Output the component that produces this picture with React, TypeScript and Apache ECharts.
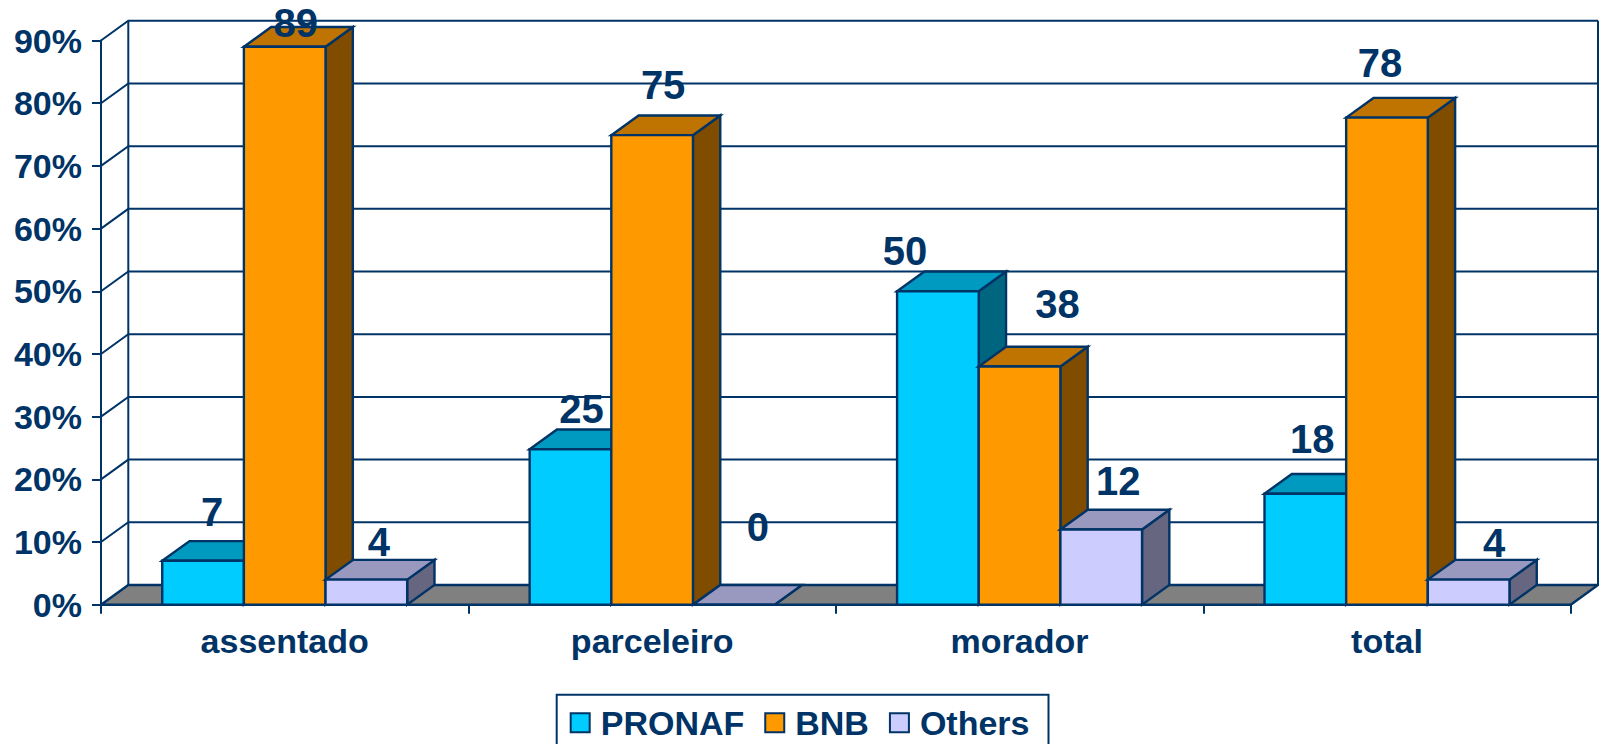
import React, { useEffect, useRef } from "react";
import * as echarts from "echarts";

const categories = ["assentado", "parceleiro", "morador", "total"];
const seriesNames = ["PRONAF", "BNB", "Others"];
const pronaf = [7, 24.8, 50, 17.7];
const bnb = [89, 74.9, 38, 77.7];
const others = [4, 0, 12, 4];
const yTicks = [0, 10, 20, 30, 40, 50, 60, 70, 80, 90];

const INK = "#003366";
const FONT = '"Liberation Sans", Arial, sans-serif';
const DX = 27.3;
const DY = 19.7;
const BAR_FRACTION = 1 / 4.5;

const palettes = [
  { front: "#00CCFF", top: "#0099BF", side: "#006680" },
  { front: "#FF9900", top: "#BF7300", side: "#804D00" },
  { front: "#CCCCFF", top: "#9999BF", side: "#666680" },
];

// Hand-placed label offsets of the original (from bar front-top centre), px: [dx, up]
const labelOffsets = [
  [[9, 49], [11, 40], [-33, 40], [7, 55]],
  [[11, 24], [11, 50], [38, 62], [-7, 55]],
  [[12.5, 38], [24, 78], [17, 48], [25.5, 37]],
];

function poly(points: number[][], fill: string, lineWidth = 2.4) {
  return {
    type: "polygon",
    shape: { points },
    style: { fill, stroke: INK, lineWidth, lineJoin: "miter" },
  };
}

function barSeries(name: string, values: number[], idx: number) {
  const pal = palettes[idx];
  return {
    type: "custom",
    name,
    z: 3 + idx,
    silent: true,
    itemStyle: { color: pal.front, borderColor: INK, borderWidth: 2 },
    encode: { x: 0, y: 1 },
    data: values.map((v, i) => [i, v]),
    renderItem: (_p: any, api: any) => {
      const cat = api.value(0);
      const val = api.value(1);
      const [cx, yTop] = api.coord([cat, val]);
      const [, yBase] = api.coord([cat, 0]);
      const bw = api.size([1, 0])[0] * BAR_FRACTION;
      const x0 = cx + (idx - 1.5) * bw;
      const x1 = x0 + bw;
      return {
        type: "group",
        children: [
          poly(
            [[x1, yTop], [x1 + DX, yTop - DY], [x1 + DX, yBase - DY], [x1, yBase]],
            pal.side
          ),
          poly(
            [[x0, yTop], [x0 + DX, yTop - DY], [x1 + DX, yTop - DY], [x1, yTop]],
            pal.top
          ),
          poly([[x0, yTop], [x1, yTop], [x1, yBase], [x0, yBase]], pal.front),
        ],
      };
    },
  };
}

function labelSeries(values: number[], idx: number) {
  return {
    type: "custom",
    name: "labels" + idx,
    z: 10,
    silent: true,
    encode: { x: 0, y: 1 },
    data: values.map((v, i) => [i, v]),
    renderItem: (_p: any, api: any) => {
      const cat = api.value(0);
      const val = api.value(1);
      const [cx, yTop] = api.coord([cat, val]);
      const bw = api.size([1, 0])[0] * BAR_FRACTION;
      const [ox, up] = labelOffsets[idx][cat];
      return {
        type: "text",
        style: {
          x: cx + (idx - 1) * bw + ox,
          y: yTop - up,
          text: String(Math.round(val)),
          fill: INK,
          font: `bold 40px ${FONT}`,
          align: "center",
          verticalAlign: "middle",
        },
      };
    },
  };
}

export default function App() {
  const ref = useRef<HTMLDivElement>(null);
  useEffect(() => {
    const chart = echarts.init(ref.current!, null, { renderer: "svg" });
    chart.setOption({
      animation: false,
      backgroundColor: "#ffffff",
      grid: { left: 101, right: 28.3, top: 40.5, bottom: 139.3, containLabel: false },
      legend: {
        left: 556.7,
        top: 694.7,
        orient: "horizontal",
        data: seriesNames.map((name, i) => ({
          name,
          icon: "rect",
          itemStyle: { color: palettes[i].front, borderColor: INK, borderWidth: 2 },
        })),
        itemWidth: 19,
        itemHeight: 19,
        itemGap: 20,
        padding: [11, 19, 30, 13],
        borderColor: INK,
        borderWidth: 2,
        backgroundColor: "#ffffff",
        selectedMode: false,
        textStyle: {
          color: INK,
          fontFamily: FONT,
          fontWeight: "bold",
          fontSize: 34,
          padding: [0, 0, 0, 6],
        },
      },
      xAxis: {
        type: "category",
        data: categories,
        axisLine: { show: true, lineStyle: { color: INK, width: 2 } },
        axisTick: { show: true, length: 9, lineStyle: { color: INK, width: 2 } },
        axisLabel: { color: INK, fontFamily: FONT, fontWeight: "bold", fontSize: 34, margin: 19 },
        splitLine: { show: false },
      },
      yAxis: {
        type: "value",
        min: 0,
        max: 90,
        interval: 10,
        axisLine: { show: true, lineStyle: { color: INK, width: 2 } },
        axisTick: { show: true, length: 9, lineStyle: { color: INK, width: 2 } },
        axisLabel: {
          color: INK,
          fontFamily: FONT,
          fontWeight: "bold",
          fontSize: 34,
          margin: 19,
          formatter: "{value}%",
        },
        splitLine: { show: false },
      },
      series: [
        {
          type: "custom",
          name: "floor",
          z: 1,
          silent: true,
          encode: { y: 0 },
          data: [[0, 0]],
          renderItem: (params: any, api: any) => {
            const cs = params.coordSys;
            const y = api.coord([0, 0])[1];
            const l = cs.x;
            const r = cs.x + cs.width;
            return poly(
              [[l, y], [l + DX, y - DY], [r + DX, y - DY], [r, y]],
              "#808080"
            );
          },
        },
        {
          type: "custom",
          name: "walls",
          z: 1,
          silent: true,
          encode: { x: 0, y: 1 },
          data: yTicks.filter((t) => t > 0).map((t) => [0, t]),
          renderItem: (params: any, api: any) => {
            const cs = params.coordSys;
            const y = api.coord([0, api.value(1)])[1];
            const l = cs.x;
            const r = cs.x + cs.width;
            return {
              type: "polyline",
              shape: { points: [[l, y], [l + DX, y - DY], [r + DX, y - DY]] },
              style: { fill: "none", stroke: INK, lineWidth: 2 },
            };
          },
        },
        {
          type: "custom",
          name: "wallEdges",
          z: 1,
          silent: true,
          encode: { y: 0 },
          data: [[0, 0]],
          renderItem: (params: any, api: any) => {
            const cs = params.coordSys;
            const yb = api.coord([0, 0])[1];
            const yt = api.coord([0, 90])[1];
            const l = cs.x + DX;
            const r = cs.x + cs.width + DX;
            const line = (x: number) => ({
              type: "line",
              shape: { x1: x, y1: yt - DY, x2: x, y2: yb - DY },
              style: { stroke: INK, lineWidth: 2 },
            });
            return { type: "group", children: [line(l), line(r)] };
          },
        },
        barSeries(seriesNames[0], pronaf, 0),
        barSeries(seriesNames[1], bnb, 1),
        barSeries(seriesNames[2], others, 2),
        labelSeries(pronaf, 0),
        labelSeries(bnb, 1),
        labelSeries(others, 2),
      ],
    });
    return () => chart.dispose();
  }, []);
  return (
    <div
      ref={ref}
      style={{ position: "absolute", left: 0, top: 0, width: 1599, height: 744 }}
    />
  );
}
